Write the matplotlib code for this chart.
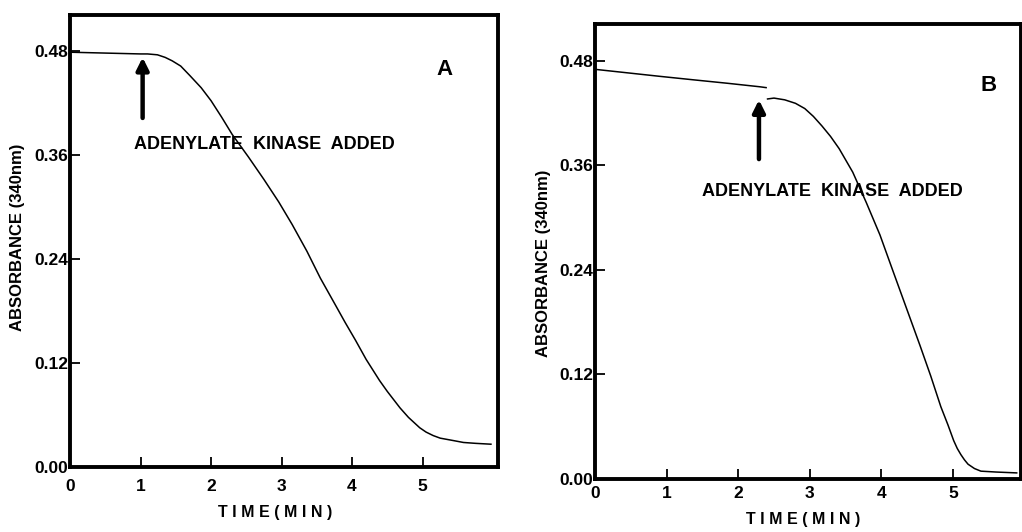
import matplotlib
matplotlib.use('Agg')
import matplotlib.pyplot as plt

plt.rcParams['font.family'] = ['Liberation Sans', 'DejaVu Sans']
plt.rcParams['font.weight'] = 'bold'

# panel A: absorbance trace
time_a = [0.0, 0.5, 1.0, 1.1, 1.24, 1.35, 1.45, 1.57, 1.7, 1.86, 2.0, 2.15, 2.3, 2.53, 2.75, 2.96, 3.15,
          3.36, 3.55, 3.77, 3.9, 4.05, 4.2, 4.39, 4.5, 4.68, 4.8, 4.96, 5.05, 5.15, 5.25, 5.35, 5.45,
          5.58, 5.75, 5.97]
abs_a = [0.479, 0.478, 0.477, 0.477, 0.476, 0.473, 0.469, 0.463, 0.452, 0.438, 0.423, 0.404, 0.384,
         0.358, 0.332, 0.306, 0.280, 0.249, 0.218, 0.186, 0.167, 0.146, 0.124, 0.0996, 0.087, 0.068,
         0.057, 0.045, 0.040, 0.036, 0.033, 0.0315, 0.030, 0.028, 0.027, 0.026]

# panel B: trace before addition, then after addition
time_b1 = [0.0, 0.45, 0.9, 1.37, 1.85, 2.30, 2.39]
abs_b1 = [0.470, 0.466, 0.462, 0.458, 0.454, 0.450, 0.449]
time_b2 = [2.41, 2.50, 2.65, 2.80, 2.93, 3.05, 3.17, 3.29, 3.41, 3.60, 3.79, 3.98, 4.16, 4.35, 4.54,
           4.69, 4.83, 4.93, 5.01, 5.06, 5.11, 5.16, 5.21, 5.30, 5.39, 5.60, 5.89]
abs_b2 = [0.436, 0.437, 0.435, 0.431, 0.425, 0.416, 0.405, 0.393, 0.379, 0.352, 0.317, 0.280, 0.239,
          0.196, 0.153, 0.118, 0.083, 0.062, 0.044, 0.035, 0.028, 0.022, 0.017, 0.012, 0.009, 0.008,
          0.007]

xticks = [0, 1, 2, 3, 4, 5]
yticks = [0.00, 0.12, 0.24, 0.36, 0.48]
ytick_labels = ['0.00', '0.12', '0.24', '0.36', '0.48']

arrow_a = dict(x=1.03, tail=0.403, head=0.473)
arrow_b = dict(x=2.29, tail=0.367, head=0.435)

W, H = 1022, 532
fig = plt.figure(figsize=(W / 100, H / 100), dpi=100)

# axes boxes in pixels: left, right, top, bottom
ax_a = fig.add_axes([70 / W, 1 - 466.7 / H, (498 - 70) / W, (466.7 - 15) / H])
ax_b = fig.add_axes([595 / W, 1 - 479 / H, (1021 - 595) / W, (479 - 24) / H])


def style(ax, xmax, xpad):
    ax.set_xlim(0, xmax)
    ax.set_ylim(0, 0.522)
    for s in ax.spines.values():
        s.set_linewidth(2.8)
    ax.set_xticks(xticks)
    ax.set_xticklabels([str(t) for t in xticks])
    ax.set_yticks(yticks)
    ax.set_yticklabels(ytick_labels)
    ax.tick_params(direction='in', length=7, width=1.3, labelsize=12.5)
    ax.tick_params(axis='x', pad=xpad)
    ax.tick_params(axis='y', pad=1)
    for lab in ax.get_xticklabels() + ax.get_yticklabels():
        lab.set_fontweight('bold')


style(ax_a, 6.07, 9)
style(ax_b, 5.95, 5)

ax_a.plot(time_a, abs_a, color='black', lw=1.1)
ax_b.plot(time_b1, abs_b1, color='black', lw=1.1)
ax_b.plot(time_b2, abs_b2, color='black', lw=1.1)

for ax, arr in [(ax_a, arrow_a), (ax_b, arrow_b)]:
    ax.annotate('', xy=(arr['x'], arr['head']), xytext=(arr['x'], arr['tail']),
                arrowprops=dict(arrowstyle='-|>', lw=3.2, color='black', mutation_scale=18,
                                shrinkA=0, shrinkB=0))

ax_a.text(0.91, 0.372, 'ADENYLATE  KINASE  ADDED', fontsize=13, fontweight='bold', va='center', ha='left')
ax_b.text(1.49, 0.330, 'ADENYLATE  KINASE  ADDED', fontsize=13, fontweight='bold', va='center', ha='left')

ax_a.text(5.31, 0.459, 'A', fontsize=16, fontweight='bold', ha='center', va='center')
ax_b.text(5.49, 0.451, 'B', fontsize=16, fontweight='bold', ha='center', va='center')

for ax, ylx, yly, xlx, xly in [(ax_a, -0.122, 0.508, 0.48, -0.101), (ax_b, -0.12, 0.475, 0.488, -0.09)]:
    ax.set_ylabel('ABSORBANCE (340nm)', fontsize=12, fontweight='bold')
    ax.yaxis.set_label_coords(ylx, yly)
    ax.set_xlabel('T I M E ( M I N )', fontsize=11.5, fontweight='bold')
    ax.xaxis.set_label_coords(xlx, xly)
    ax.xaxis.label.set_va('center')
    ax.yaxis.label.set_va('center')

fig.savefig('out.png', dpi=100)
